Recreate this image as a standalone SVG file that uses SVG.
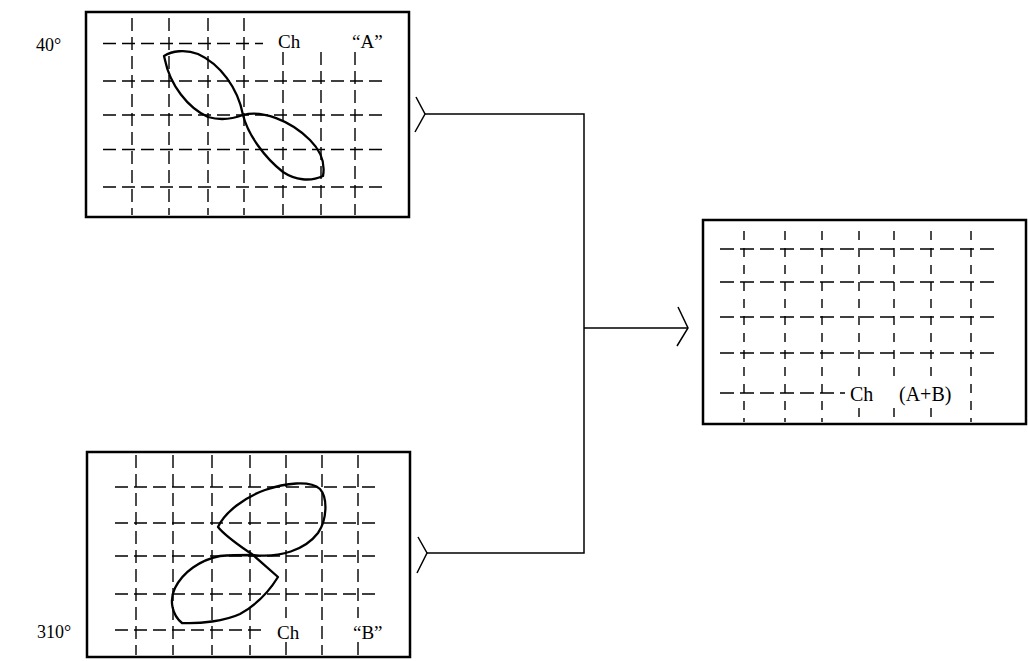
<svg xmlns="http://www.w3.org/2000/svg" width="1028" height="661" viewBox="0 0 1028 661">
<style>
.box{fill:none;stroke:#000;stroke-width:2.5}
.g{stroke:#000;stroke-width:1.4;stroke-dasharray:13 6;fill:none}
.gch{stroke:#000;stroke-width:1.4;stroke-dasharray:14 6;fill:none}
.gcv{stroke:#000;stroke-width:1.4;stroke-dasharray:9 8;fill:none}
.lobe{fill:none;stroke:#000;stroke-width:2.3;stroke-linejoin:round}
.conn{fill:none;stroke:#000;stroke-width:1.5}
text{font-family:"Liberation Serif","Times New Roman",serif;font-size:19px;fill:#000}
.ang{font-size:18px}
.lc{font-size:20px}
</style>
<rect width="1028" height="661" fill="#fff"/>
<g id="node-a">
<rect class="box" x="86" y="12" width="323" height="205"/>
<g class="g">
<path d="M103,43.5H263M103,81H387M103,115H387M103,149.5H387M103,187H387"/>
<path d="M132,18V215M169,18V215M208,18V215M244,18V215M283,52V215M321,52V215M355,52V215"/>
</g>
<path class="lobe" d="M243,115 C238,88 220,64 198,54 C185,49 172,51 164,56 L165,60 C170,85 188,108 208,117 C222,121 235,118 243,115 Z"/>
<path class="lobe" d="M243,115 C262,110 290,120 310,140 C322,152 325,165 323,176 C310,182 295,180 283,172 C265,158 248,135 243,115 Z"/>
<text x="278" y="48">Ch</text>
<text x="352" y="48">“A”</text>
</g>
<g id="node-b">
<rect class="box" x="87" y="452" width="323" height="205"/>
<g class="g">
<path d="M115,487H381M115,523H381M115,556H381M115,594H381M115,630H263"/>
<path d="M136,455V655M173,455V655M212,455V655M250,455V655M286,455V618M286,642V655M322,455V655M358,455V618M358,642V655"/>
</g>
<path class="lobe" d="M253,555 C240,546 226,537 218,527 C225,512 245,497 265,490 C285,483 310,480 320,489 C328,498 327,520 318,533 C305,550 280,558 253,555 Z"/>
<path class="lobe" d="M253,555 L278,577 C270,590 258,604 240,614 C225,621 200,624 182,623 C172,615 169,600 175,588 C183,572 200,560 220,556 C232,555 245,555 253,555 Z"/>
<text x="277" y="639">Ch</text>
<text x="353" y="639">“B”</text>
</g>
<g id="node-c">
<rect class="box" x="703" y="220" width="323" height="204"/>
<path class="gch" d="M720,249H998M720,282H998M720,317H998M720,353H998M720,393H845"/>
<path class="gcv" d="M744,231V422M785,231V422M822,231V422M859,231V380M859,408V422M894,231V380M894,408V422M931,231V380M931,408V422M971,231V422"/>
<text class="lc" x="850" y="401">Ch</text>
<text class="lc" x="899" y="401">(A+B)</text>
</g>
<g id="labels">
<text class="ang" x="36" y="51">40°</text>
<text class="ang" x="37" y="638">310°</text>
</g>
<g id="connectors">
<polyline class="conn" points="416,97 425,114 415,132"/>
<polyline class="conn" points="418,537 427,553 417,573"/>
<path class="conn" d="M425,114H584V553H427M584,328H688"/>
<polyline class="conn" points="678,307 688,328 677,346"/>
</g>
</svg>
